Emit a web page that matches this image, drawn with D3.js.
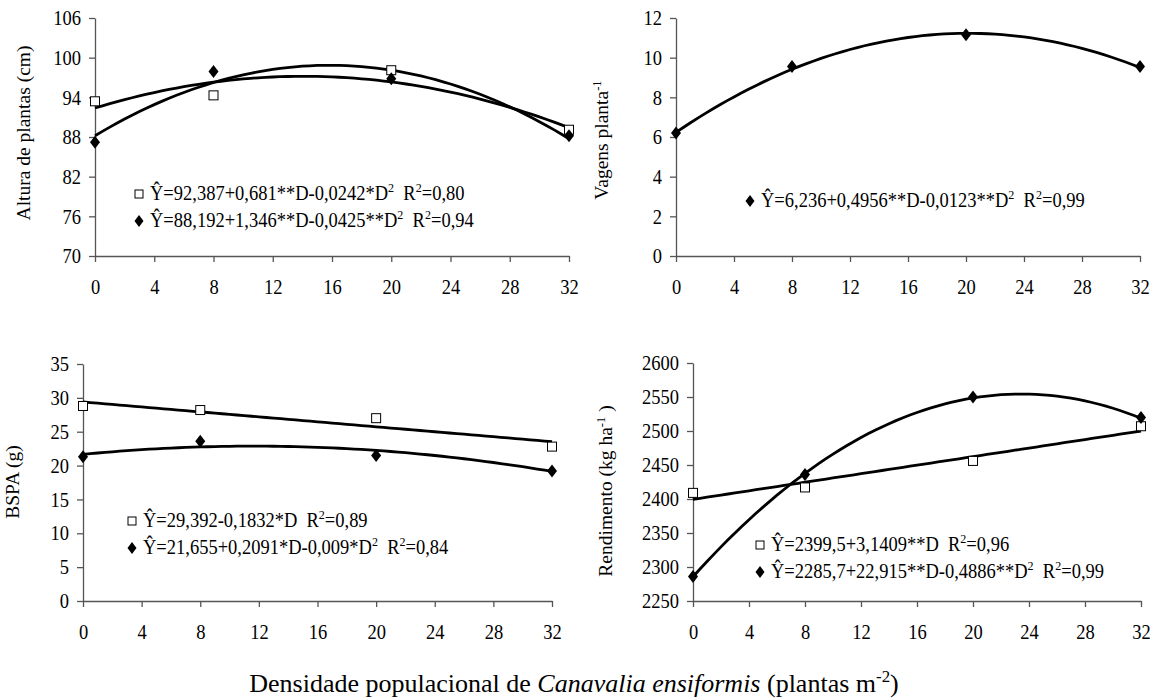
<!DOCTYPE html>
<html>
<head>
<meta charset="utf-8">
<script src="https://cdn.jsdelivr.net/npm/d3@7"></script>
<style>
  body { margin: 0; background: #fff; }
  svg text { font-family: "Liberation Serif", "Times New Roman", serif; fill: #000; white-space: pre; }
</style>
</head>
<body>
<script>
// densidades avaliadas (plantas m-2)
var densidade = [0, 8, 20, 32];
var xTicks = [0, 4, 8, 12, 16, 20, 24, 28, 32];

var alturaQuad = [93.4, 94.3, 98.1, 89.1];
var alturaLos  = [87.2, 97.9, 96.8, 88.2];
var vagensLos  = [6.2, 9.55, 11.15, 9.55];
var bspaQuad   = [28.8, 28.2, 27.0, 22.8];
var bspaLos    = [21.3, 23.6, 21.5, 19.2];
var rendQuad   = [2409, 2417, 2456, 2507];
var rendLos    = [2286, 2436, 2550, 2520];

// coeficientes das equacoes ajustadas (b0, b1, b2)
var alturaQuadEq = [92.387, 0.681, -0.0242];
var alturaLosEq  = [88.192, 1.346, -0.0425];
var vagensLosEq  = [6.236, 0.4956, -0.0123];
var bspaQuadEq   = [29.392, -0.1832, 0];
var bspaLosEq    = [21.655, 0.2091, -0.009];
var rendQuadEq   = [2399.5, 3.1409, 0];
var rendLosEq    = [2285.7, 22.915, -0.4886];

var alturaTicks = [70, 76, 82, 88, 94, 100, 106];
var vagensTicks = [0, 2, 4, 6, 8, 10, 12];
var bspaTicks   = [0, 5, 10, 15, 20, 25, 30, 35];
var rendTicks   = [2250, 2300, 2350, 2400, 2450, 2500, 2550, 2600];

var sy = 1.1;
var fonte = "'Liberation Serif', 'Times New Roman', serif";

var svg = d3.select("body").append("svg")
    .attr("width", 1150)
    .attr("height", 699)
    .attr("font-family", fonte);

function poly(c, d) { return c[0] + c[1] * d + c[2] * d * d; }

function quadrado(g, x, y, s) {
  g.append("rect")
    .attr("x", x - s / 2).attr("y", y - s / 2)
    .attr("width", s).attr("height", s)
    .attr("fill", "#fff").attr("stroke", "#000").attr("stroke-width", 1);
}
function losango(g, x, y, w, h) {
  g.append("path")
    .attr("d", "M" + x + "," + (y - h) + "L" + (x + w) + "," + y + "L" + x + "," + (y + h) + "L" + (x - w) + "," + y + "Z")
    .attr("fill", "#000");
}

// texto com partes sobrescritas
function escreve(sel, partes, tam) {
  var prev = false;
  partes.forEach(function(p) {
    var t = sel.append("tspan").text(p.t);
    if (p.sup) { t.attr("font-size", tam * 0.65).attr("dy", -tam * 0.38); }
    else if (prev) { t.attr("dy", tam * 0.38); }
    if (p.it) t.attr("font-style", "italic");
    prev = !!p.sup;
  });
}

function painel(cfg) {
  var x = d3.scaleLinear().domain([0, 32]).range([cfg.x0, cfg.x1]);
  var y = d3.scaleLinear().domain(cfg.domain).range([cfg.yBot, cfg.yTop]);
  var g = svg.append("g");

  var ax = g.append("g")
      .attr("transform", "translate(0," + cfg.yBot + ")")
      .call(d3.axisBottom(x).tickValues(xTicks).tickFormat(d3.format("d")).tickSize(6).tickSizeOuter(0));
  var ay = g.append("g")
      .attr("transform", "translate(" + cfg.x0 + ",0)")
      .call(d3.axisLeft(y).tickValues(cfg.ticks).tickFormat(d3.format("d")).tickSize(6).tickSizeOuter(0));

  [ax, ay].forEach(function(a) {
    a.attr("font-family", fonte).attr("font-size", null);
    a.selectAll("path, line").attr("stroke", "#555").attr("stroke-width", 1.3);
    a.selectAll("text").attr("font-size", 18.5).attr("fill", "#000");
  });
  ax.selectAll(".tick text").attr("y", 0).attr("dy", null)
      .attr("transform", "translate(0,38) scale(1," + sy + ")");
  ay.selectAll(".tick text").attr("x", 0).attr("dy", null)
      .attr("transform", "translate(-14,6.7) scale(1," + sy + ")");

  // titulo do eixo y
  var yl = g.append("text")
      .attr("text-anchor", "middle")
      .attr("font-size", 19.5)
      .attr("transform", "translate(" + cfg.ylx + "," + cfg.yly + ") rotate(-90)");
  escreve(yl, cfg.ylabel, 19.5);

  var linha = d3.line().x(function(d) { return x(d[0]); }).y(function(d) { return y(d[1]); });
  var passos = d3.range(0, 32.001, 0.5);

  cfg.series.forEach(function(s) {
    g.append("path")
      .datum(passos.map(function(d) { return [d, poly(s.eq, d)]; }))
      .attr("d", linha)
      .attr("fill", "none").attr("stroke", "#000").attr("stroke-width", 2.8)
      .attr("stroke-linejoin", "round");
  });
  cfg.series.forEach(function(s) {
    s.vals.forEach(function(v, i) {
      if (s.mk === "q") quadrado(g, x(densidade[i]), y(v), 9);
      else losango(g, x(densidade[i]), y(v), 5, 6.5);
    });
  });

  // legenda
  cfg.series.forEach(function(s, i) {
    var ly = cfg.legY + i * 27;
    if (s.mk === "q") quadrado(g, cfg.legX, ly, 8);
    else losango(g, cfg.legX, ly, 4.5, 6);
    var t = g.append("text")
        .attr("font-size", 18.5)
        .attr("transform", "translate(" + (cfg.legX + 11) + "," + (ly + 5.5) + ") scale(1," + sy + ")");
    escreve(t, s.leg, 18.5);
  });
}

painel({
  x0: 95, x1: 569, yTop: 18, yBot: 256, domain: [70, 106], ticks: alturaTicks,
  ylabel: [{t: "Altura de plantas (cm)"}], ylx: 30, yly: 133,
  legX: 139, legY: 194,
  series: [
    {vals: alturaQuad, eq: alturaQuadEq, mk: "q",
     leg: [{t: "Ŷ=92,387+0,681**D-0,0242*D"}, {t: "2", sup: true}, {t: "  R"}, {t: "2", sup: true}, {t: "=0,80"}]},
    {vals: alturaLos, eq: alturaLosEq, mk: "l",
     leg: [{t: "Ŷ=88,192+1,346**D-0,0425**D"}, {t: "2", sup: true}, {t: "  R"}, {t: "2", sup: true}, {t: "=0,94"}]}
  ]
});

painel({
  x0: 676, x1: 1140, yTop: 18, yBot: 256, domain: [0, 12], ticks: vagensTicks,
  ylabel: [{t: "Vagens planta"}, {t: "-1", sup: true}], ylx: 608, yly: 140,
  legX: 750, legY: 201,
  series: [
    {vals: vagensLos, eq: vagensLosEq, mk: "l",
     leg: [{t: "Ŷ=6,236+0,4956**D-0,0123**D"}, {t: "2", sup: true}, {t: "  R"}, {t: "2", sup: true}, {t: "=0,99"}]}
  ]
});

painel({
  x0: 83, x1: 552, yTop: 364, yBot: 601, domain: [0, 35], ticks: bspaTicks,
  ylabel: [{t: "BSPA (g)"}], ylx: 19, yly: 482,
  legX: 132, legY: 521,
  series: [
    {vals: bspaQuad, eq: bspaQuadEq, mk: "q",
     leg: [{t: "Ŷ=29,392-0,1832*D  R"}, {t: "2", sup: true}, {t: "=0,89"}]},
    {vals: bspaLos, eq: bspaLosEq, mk: "l",
     leg: [{t: "Ŷ=21,655+0,2091*D-0,009*D"}, {t: "2", sup: true}, {t: "  R"}, {t: "2", sup: true}, {t: "=0,84"}]}
  ]
});

painel({
  x0: 693, x1: 1141, yTop: 363, yBot: 601, domain: [2250, 2600], ticks: rendTicks,
  ylabel: [{t: "Rendimento (kg ha"}, {t: "-1", sup: true}, {t: " )"}], ylx: 612, yly: 491,
  legX: 760, legY: 545,
  series: [
    {vals: rendQuad, eq: rendQuadEq, mk: "q",
     leg: [{t: "Ŷ=2399,5+3,1409**D  R"}, {t: "2", sup: true}, {t: "=0,96"}]},
    {vals: rendLos, eq: rendLosEq, mk: "l",
     leg: [{t: "Ŷ=2285,7+22,915**D-0,4886**D"}, {t: "2", sup: true}, {t: "  R"}, {t: "2", sup: true}, {t: "=0,99"}]}
  ]
});

var tit = svg.append("text")
    .attr("text-anchor", "middle")
    .attr("font-size", 26)
    .attr("transform", "translate(574,692)");
escreve(tit, [{t: "Densidade populacional de "}, {t: "Canavalia ensiformis", it: true}, {t: " (plantas m"}, {t: "-2", sup: true}, {t: ")"}], 26);
</script>
</body>
</html>
